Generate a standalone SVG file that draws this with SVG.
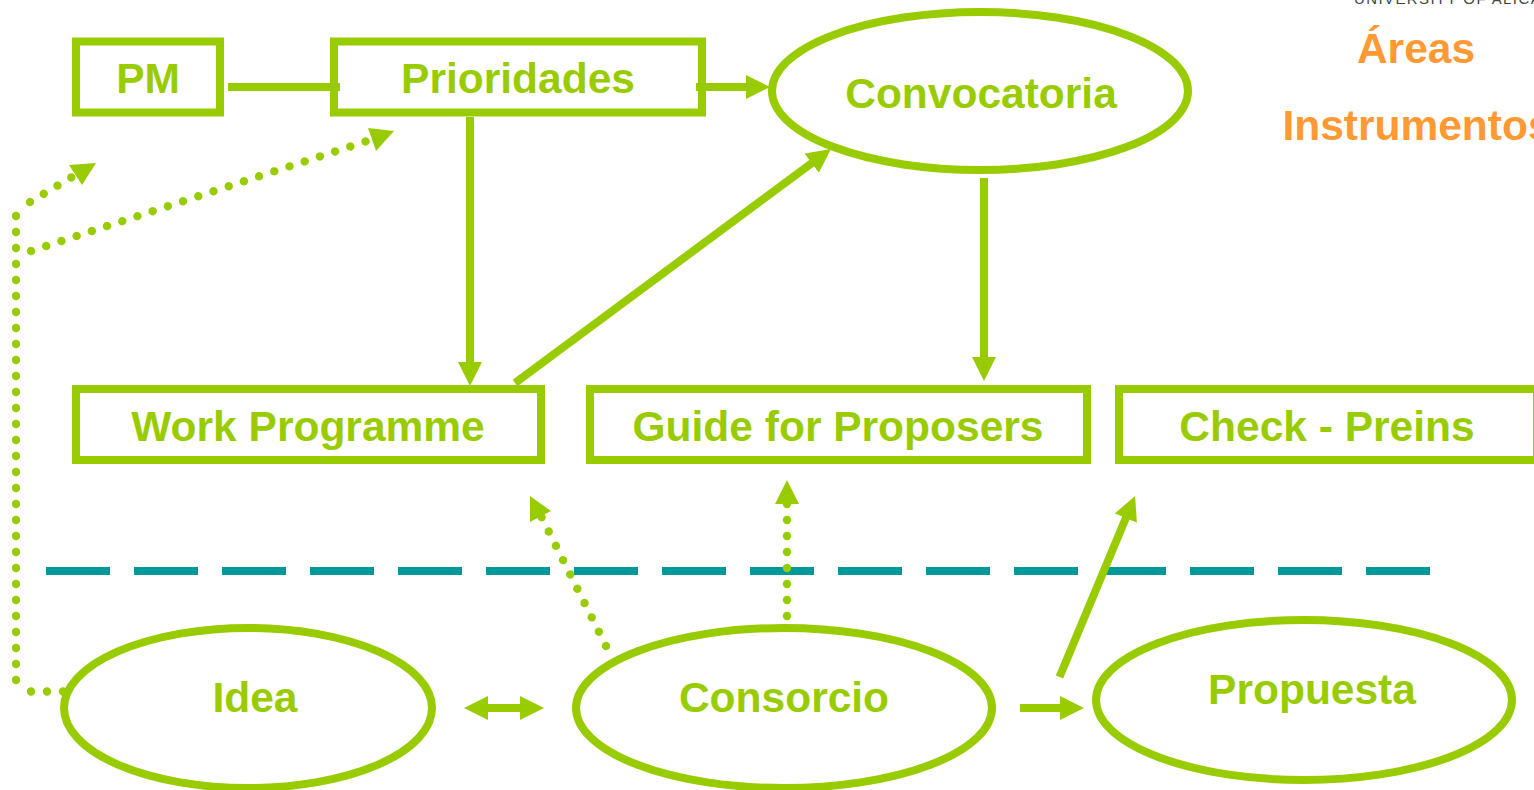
<svg xmlns="http://www.w3.org/2000/svg" width="1534" height="790" viewBox="0 0 1534 790">
<style>
.b{fill:#fff;stroke:#99cc00;stroke-width:8}
.t{font-family:"Liberation Sans",Arial,sans-serif;font-weight:700;font-size:42.5px;fill:#99cc00;text-anchor:middle}
.o{font-family:"Liberation Sans",Arial,sans-serif;font-weight:700;font-size:42.5px;fill:#ff9933;text-anchor:middle}
.c{fill:none;stroke:#99cc00;stroke-width:8}
.d{fill:none;stroke:#99cc00;stroke-width:8.4;stroke-linecap:round;stroke-dasharray:0.01 15.99}
.h{fill:#99cc00}
</style>
<defs>
<marker id="a" markerUnits="userSpaceOnUse" markerWidth="24" markerHeight="24" refX="2" refY="12" orient="auto" viewBox="0 0 24 24"><path d="M0 0L24 12L0 24z" fill="#99cc00"/></marker>
</defs>
<rect width="1534" height="790" fill="#fff"/>
<text x="1354" y="4" font-family="Liberation Sans,Arial,sans-serif" font-size="15" letter-spacing="1.4" fill="#444">UNIVERSITY OF ALICANTE</text>
<g id="labels"><text class="o" x="1416" y="63">Áreas</text><text class="o" x="1417" y="140">Instrumentos</text></g>
<line id="divider" x1="46" y1="571" x2="1430" y2="571" stroke="#009999" stroke-width="8" stroke-dasharray="64 24"/>
<g id="n-pm"><rect class="b" x="76" y="41.5" width="144" height="71"/><text class="t" x="148" y="93">PM</text></g>
<g id="n-prioridades"><rect class="b" x="334" y="41.5" width="368" height="71"/><text class="t" x="518" y="93">Prioridades</text></g>
<g id="n-convocatoria"><ellipse class="b" cx="980" cy="91" rx="208" ry="79"/><text class="t" x="981" y="108">Convocatoria</text></g>
<g id="n-wp"><rect class="b" x="76" y="389" width="465" height="71"/><text class="t" x="308" y="441">Work Programme</text></g>
<g id="n-guide"><rect class="b" x="590" y="389" width="497" height="71"/><text class="t" x="838" y="441">Guide for Proposers</text></g>
<g id="n-check"><rect class="b" x="1119" y="389" width="418" height="71"/><text class="t" x="1327" y="441">Check - Preins</text></g>
<g id="n-idea"><ellipse class="b" cx="248" cy="708" rx="184" ry="80"/><text class="t" x="255" y="712">Idea</text></g>
<g id="n-consorcio"><ellipse class="b" cx="784" cy="708" rx="208" ry="80"/><text class="t" x="784" y="712">Consorcio</text></g>
<g id="n-propuesta"><ellipse class="b" cx="1304" cy="700" rx="208" ry="80"/><text class="t" x="1312" y="704">Propuesta</text></g>
<g id="connectors">
<line class="c" x1="228" y1="87" x2="340" y2="87"/>
<line class="c" x1="696" y1="87" x2="748" y2="87" marker-end="url(#a)"/>
<line class="c" x1="470" y1="117" x2="470" y2="364" marker-end="url(#a)"/>
<line class="c" x1="515" y1="383" x2="813.3" y2="162" marker-end="url(#a)"/>
<line class="c" x1="984" y1="178" x2="984" y2="359" marker-end="url(#a)"/>
<line class="c" x1="486" y1="708" x2="522" y2="708"/>
<polygon class="h" points="464,708 488,696 488,720"/><polygon class="h" points="544,708 520,696 520,720"/>
<line class="c" x1="1020" y1="708" x2="1062" y2="708" marker-end="url(#a)"/>
<line class="c" x1="1059.5" y1="677" x2="1126.6" y2="516.3" marker-end="url(#a)"/>
<path class="d" d="M63 691.5H30"/>
<path class="d" d="M16 680V207"/>
<path class="d" d="M30 202L72 177"/>
<polygon class="h" points="96,163 69,165 82,185"/>
<path class="d" d="M31 251L367 141"/>
<polygon class="h" points="394,131 368,128 376,151"/>
<path class="d" d="M606 646L541 516"/>
<polygon class="h" points="530,496 551,511 530,522"/>
<path class="d" d="M787 616V503"/>
<polygon class="h" points="787,480 775,504 799,504"/>
</g>
</svg>
